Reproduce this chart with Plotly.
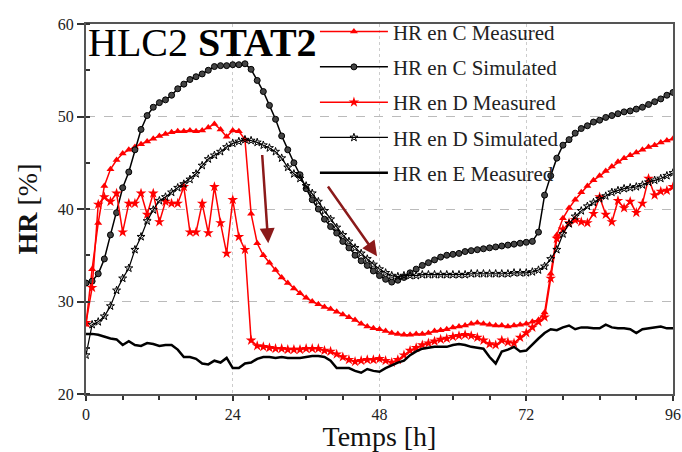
import plotly.graph_objects as go

# time axis (hours)
temps = list(range(0, 97))

hr_c_measured = [
    27.5, 33.5, 38.5, 42.5, 44.3, 45.3, 46.0, 46.4, 46.7, 47.0,
    47.3, 47.6, 47.9, 48.1, 48.3, 48.4, 48.4, 48.5, 48.4, 48.5,
    48.8, 49.2, 48.6, 47.8, 48.5, 48.4, 47.5, 39.5, 36.3, 35.0,
    34.2, 33.4, 32.6, 32.0, 31.4, 30.9, 30.4, 30.0, 29.7, 29.4,
    29.2, 28.9, 28.6, 28.3, 28.0, 27.6, 27.3, 27.1, 27.0, 26.8,
    26.6, 26.5, 26.4, 26.4, 26.5, 26.5, 26.6, 26.8, 26.9, 27.0,
    27.2, 27.3, 27.4, 27.6, 27.7, 27.6, 27.5, 27.4, 27.4, 27.3,
    27.4, 27.5, 27.6, 27.8, 28.0, 28.8, 33.0, 37.2, 39.0, 40.1,
    41.0, 41.8, 42.5, 43.1, 43.6, 44.1, 44.6, 45.1, 45.5, 45.8,
    46.1, 46.4, 46.7, 46.9, 47.2, 47.4, 47.6,
]

hr_c_simulated = [
    32.0, 32.2, 33.0, 34.6, 37.2, 39.6, 42.3, 44.0, 46.4, 48.6,
    50.1, 51.0, 51.5, 51.8, 52.3, 53.0, 53.5, 54.0, 54.3, 54.6,
    55.0, 55.4, 55.5, 55.5, 55.6, 55.6, 55.7, 55.1, 53.9, 52.7,
    51.2, 49.7, 47.9, 46.4, 45.0, 43.7, 42.2, 41.0, 40.0, 38.9,
    38.1, 37.4, 36.5, 35.8, 35.0, 34.4, 33.9, 33.3, 32.8, 32.4,
    32.1, 32.3, 32.6, 33.1, 33.5, 33.9, 34.2, 34.5, 34.8, 35.0,
    35.1, 35.2, 35.4, 35.5, 35.6, 35.7, 35.8, 35.9, 36.0, 36.1,
    36.2, 36.3, 36.4, 36.5, 37.5, 41.5, 43.6, 45.5, 46.9, 47.5,
    48.2, 48.7, 49.0, 49.4, 49.6, 49.9, 50.1, 50.3, 50.5, 50.6,
    50.8, 51.0, 51.3, 51.6, 51.9, 52.3, 52.6,
]

hr_d_measured = [
    27.7, 31.5, 40.5, 41.3, 40.8, 41.7, 37.5, 40.6, 40.6, 41.7,
    39.4, 41.7, 38.6, 40.8, 40.6, 40.6, 42.4, 37.5, 37.5, 40.6,
    37.4, 42.4, 38.5, 35.2, 41.0, 37.0, 35.6, 25.8, 25.2, 25.1,
    25.0, 24.9, 24.9, 24.8, 24.8, 24.8, 24.9, 24.9, 24.9, 24.7,
    24.6, 24.3, 24.0, 23.7, 23.5, 23.6, 23.7, 23.7, 23.8, 23.6,
    23.4, 23.7, 24.2, 24.7, 25.0, 25.3, 25.5, 25.7, 25.9, 26.0,
    26.2, 26.3, 26.4, 26.3, 26.1, 25.8, 25.4, 25.3, 25.8, 25.6,
    25.5, 26.1, 26.6, 27.2, 27.8, 28.3, 32.5, 36.8, 37.8, 38.5,
    38.8, 38.6, 38.5, 39.5, 41.3, 39.4, 38.6, 40.9, 40.1, 40.8,
    39.6, 40.6, 43.3, 41.5, 41.9, 42.0, 42.4,
]

hr_d_simulated = [
    24.2, 27.5, 27.8, 28.4, 29.5, 31.2, 32.5, 33.6, 35.6, 37.0,
    38.7, 39.9, 40.9, 41.3, 41.8, 42.3, 42.7, 43.2, 43.8, 44.7,
    45.4, 45.8, 46.2, 46.7, 47.1, 47.3, 47.5, 47.4, 47.2, 46.9,
    46.6, 46.2, 45.5, 44.5, 43.8, 43.3, 42.5, 41.7, 40.8, 39.8,
    38.9, 38.0, 37.2, 36.5, 35.8, 35.2, 34.6, 34.0, 33.5, 33.1,
    32.8, 32.7, 32.8, 32.8, 32.8, 32.9, 32.9, 32.9, 32.9, 32.9,
    32.9, 32.9, 32.9, 33.0, 33.0, 33.0, 33.0, 33.0, 33.0, 33.0,
    33.1, 33.1, 33.1, 33.2, 33.4, 33.8, 34.6, 35.6, 37.3, 38.4,
    39.2, 39.8, 40.3, 40.7, 41.1, 41.4, 41.8, 42.0, 42.2, 42.3,
    42.4, 42.6, 42.9, 43.1, 43.3, 43.6, 43.9,
]

hr_e_measured = [
    26.5, 26.5, 26.4, 26.2, 26.0, 25.9, 25.3, 25.7, 25.3, 25.2,
    25.5, 25.4, 25.2, 25.3, 25.3, 24.8, 24.0, 24.0, 23.8, 23.3,
    23.2, 23.6, 23.4, 23.9, 22.8, 22.8, 23.3, 23.4, 23.8, 24.0,
    24.0, 23.9, 24.0, 23.9, 23.9, 23.9, 24.0, 24.1, 24.1, 24.0,
    23.6, 22.8, 22.8, 22.8, 22.5, 22.3, 22.7, 22.5, 22.4, 22.8,
    23.1, 23.4, 23.6, 24.2, 24.6, 24.9, 25.0, 25.1, 25.1, 25.1,
    25.3, 25.4, 25.3, 25.1, 25.0, 24.9, 24.0, 23.3, 24.6, 24.8,
    25.1, 24.6, 24.7, 25.4, 26.0, 26.6, 27.0, 26.9, 27.2, 27.4,
    27.0, 27.2, 27.2, 27.1, 27.1, 27.5, 27.2, 27.1, 27.1, 27.0,
    26.6, 27.0, 27.1, 27.2, 27.3, 27.1, 27.1,
]

# arrows: (tail_t, tail_hr, head_t, head_hr)
arrows = [(28.8, 46.0, 29.8, 36.3), (39.4, 42.6, 47.6, 34.9)]

SERIF = "Liberation Serif"
RED = "#ff0000"

fig = go.Figure()

fig.add_trace(go.Scatter(
    x=temps, y=hr_c_measured, mode="lines+markers", name="HR en C Measured",
    legendgroup="a",
    line=dict(color=RED, width=1.5),
    marker=dict(symbol="triangle-up", size=7, color=RED),
))
fig.add_trace(go.Scatter(
    x=temps, y=hr_c_simulated, mode="lines+markers", name="HR en C Simulated",
    legendgroup="b",
    line=dict(color="black", width=1.5),
    marker=dict(symbol="circle", size=6, color="#444444", line=dict(color="black", width=1)),
))
fig.add_trace(go.Scatter(
    x=temps, y=hr_d_measured, mode="lines+markers", name="HR en D Measured",
    legendgroup="c",
    line=dict(color=RED, width=1.5),
    marker=dict(symbol="star", size=8, color=RED),
))
fig.add_trace(go.Scatter(
    x=temps, y=hr_d_simulated, mode="lines+markers", name="HR en D Simulated",
    legendgroup="d",
    line=dict(color="black", width=1.2),
    marker=dict(symbol="star-open", size=6, color="black", line=dict(width=1)),
))
fig.add_trace(go.Scatter(
    x=temps, y=hr_e_measured, mode="lines", name="HR en E Measured",
    legendgroup="e",
    line=dict(color="black", width=2.5),
))

for t0, h0, t1, h1 in arrows:
    fig.add_annotation(
        x=t1, y=h1, ax=t0, ay=h0, xref="x", yref="y", axref="x", ayref="y",
        text="", showarrow=True, arrowhead=2, arrowsize=1.2, arrowwidth=2.5,
        arrowcolor="#8b1a1a",
    )

fig.add_annotation(
    x=0, y=1.015, xref="paper", yref="paper", xanchor="left", yanchor="top",
    text="HLC2 <b>STAT2</b>", showarrow=False,
    font=dict(family=SERIF, size=40, color="black"),
)

fig.update_layout(
    width=682, height=452,
    margin=dict(l=86, r=9, t=24, b=58, autoexpand=False),
    plot_bgcolor="white", paper_bgcolor="white",
    font=dict(family=SERIF, color="#222222"),
    legend=dict(
        x=0.39, y=1.034, xanchor="left", yanchor="top",
        bgcolor="rgba(0,0,0,0)", font=dict(family=SERIF, size=21, color="#222222"),
        tracegroupgap=5, itemwidth=68,
    ),
    xaxis=dict(
        range=[0, 96], tickvals=[0, 24, 48, 72, 96], automargin=False,
        ticks="outside", ticklen=5, tickwidth=1.5, tickcolor="#333333",
        minor=dict(dtick=6, ticks="outside", ticklen=4, tickcolor="#333333", showgrid=False),
        showgrid=True, gridcolor="#cccccc", griddash="dot", gridwidth=1,
        showline=True, linecolor="#555555", linewidth=2, mirror=True,
        zeroline=False,
        tickfont=dict(family=SERIF, size=16, color="#222222"),
        title=dict(text="Temps [h]", font=dict(family=SERIF, size=28, color="#111111"), standoff=9),
    ),
    yaxis=dict(
        range=[20, 60], tickvals=[20, 30, 40, 50, 60], automargin=False,
        ticks="outside", ticklen=7, tickwidth=1.5, tickcolor="#333333",
        minor=dict(dtick=5, ticks="inside", ticklen=4, tickcolor="#333333", showgrid=False),
        showgrid=True, gridcolor="#bbbbbb", griddash="dash", gridwidth=1,
        showline=True, linecolor="#555555", linewidth=2, mirror=True,
        zeroline=False,
        tickfont=dict(family=SERIF, size=16, color="#222222"),
        title=dict(text="<b>HR</b> [%]", font=dict(family=SERIF, size=28, color="#111111"), standoff=12),
    ),
)

# the page body has a default 8px margin; remove it so the figure fills the window
fig.write_html(
    "out.html",
    config={"displayModeBar": False},
    post_script="document.body.style.margin='0';",
)
